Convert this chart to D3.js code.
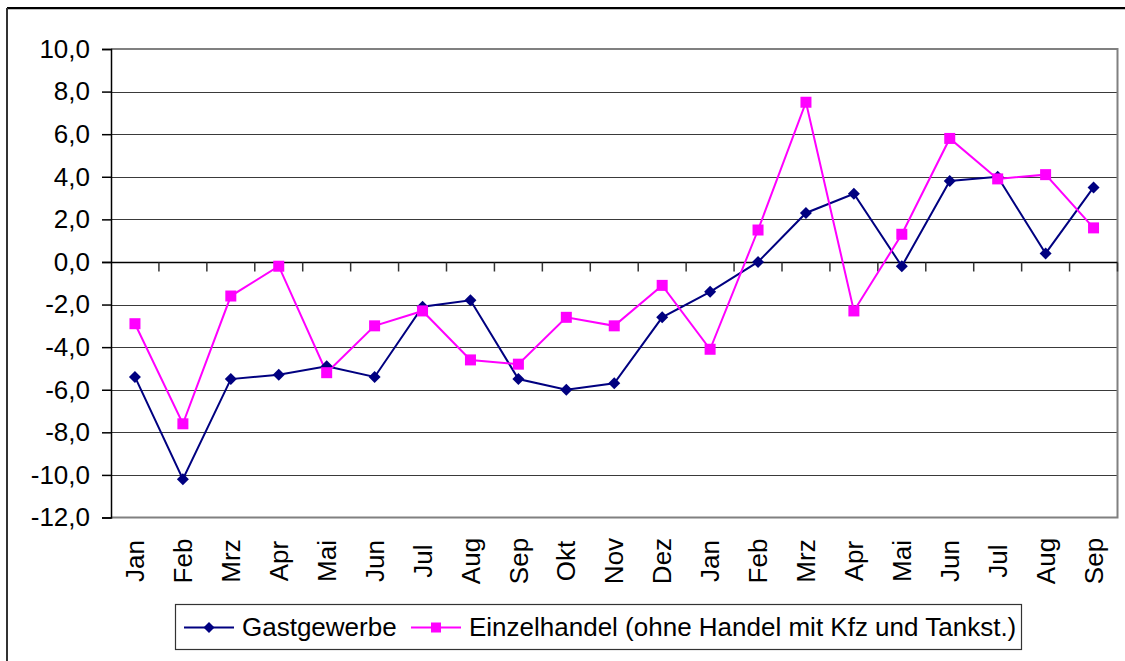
<!DOCTYPE html>
<html>
<head>
<meta charset="utf-8">
<script src="https://cdn.jsdelivr.net/npm/d3@7"></script>
<style>
  html, body { margin: 0; padding: 0; background: #fff; }
  svg { display: block; font-family: "Liberation Sans", Arial, sans-serif; }
</style>
</head>
<body>
<svg id="chart" width="1125" height="661"></svg>
<script>
const categories = ["Jan","Feb","Mrz","Apr","Mai","Jun","Jul","Aug","Sep","Okt","Nov","Dez",
                    "Jan","Feb","Mrz","Apr","Mai","Jun","Jul","Aug","Sep"];
const gastgewerbe = [-5.4,-10.2,-5.5,-5.3,-4.9,-5.4,-2.1,-1.8,-5.5,-6.0,-5.7,-2.6,
                     -1.4,0.0,2.3,3.2,-0.2,3.8,4.0,0.4,3.5];
const einzelhandel = [-2.9,-7.6,-1.6,-0.2,-5.2,-3.0,-2.3,-4.6,-4.8,-2.6,-3.0,-1.1,
                      -4.1,1.5,7.5,-2.3,1.3,5.8,3.9,4.1,1.6];
const yTicks = [10,8,6,4,2,0,-2,-4,-6,-8,-10,-12];
const seriesNames = ["Gastgewerbe", "Einzelhandel (ohne Handel mit Kfz und Tankst.)"];

const svg = d3.select("#chart");
const L = 111, R = 1117.5, T = 49, B = 517.5;

// outer chart border (top and left visible)
svg.append("line").attr("x1", 7).attr("x2", 1125).attr("y1", 8).attr("y2", 8)
  .attr("stroke", "#000").attr("stroke-width", 2);
svg.append("line").attr("x1", 7).attr("x2", 1125).attr("y1", 9.5).attr("y2", 9.5)
  .attr("stroke", "#c0c0c0").attr("stroke-width", 1);
svg.append("line").attr("x1", 7).attr("x2", 7).attr("y1", 8).attr("y2", 661)
  .attr("stroke", "#333").attr("stroke-width", 2);

const x = d3.scaleBand().domain(d3.range(categories.length)).range([L, R]).padding(0);
const y = d3.scaleLinear().domain([-12, 10]).range([B, T]);
const fmt = v => d3.format(".1f")(v).replace(".", ",").replace("−", "-");

// gridlines
svg.append("g").selectAll("line").data(yTicks.filter(v => v !== 10 && v !== -12 && v !== 0))
  .join("line")
  .attr("x1", L).attr("x2", R)
  .attr("y1", d => Math.round(y(d)) + 0.5).attr("y2", d => Math.round(y(d)) + 0.5)
  .attr("stroke", "#3a3a3a").attr("stroke-width", 1);

// plot border (gray)
svg.append("path")
  .attr("d", `M${L},${T}H${R}V${B}H${L}`)
  .attr("fill", "none").attr("stroke", "#808080").attr("stroke-width", 2);

// y axis
const yAxis = d3.axisLeft(y).tickValues(yTicks).tickSize(9).tickPadding(12).tickFormat(fmt);
const gy = svg.append("g").attr("transform", `translate(${L},0)`).call(yAxis);
gy.select(".domain").attr("stroke", "#000").attr("stroke-width", 1.5);
gy.selectAll(".tick line").attr("stroke", "#000").attr("stroke-width", 1.5);
gy.selectAll(".tick text").attr("font-size", 26).attr("fill", "#000")
  .attr("font-family", "'Liberation Sans', Arial, sans-serif");

// zero axis with category boundary ticks
const y0 = Math.round(y(0)) + 0.5;
svg.append("line").attr("x1", L - 9).attr("x2", R).attr("y1", y0).attr("y2", y0)
  .attr("stroke", "#000").attr("stroke-width", 1.5);
const bounds = d3.range(categories.length + 1).map(i => i < categories.length ? x(i) : R);
svg.append("g").selectAll("line").data(bounds.slice(1)).join("line")
  .attr("x1", d => d).attr("x2", d => d).attr("y1", y0).attr("y2", y0 + 9)
  .attr("stroke", "#333").attr("stroke-width", 1.5);

// x category labels (rotated)
svg.append("g").selectAll("text").data(categories).join("text")
  .attr("transform", (d, i) => `translate(${x(i) + x.bandwidth() / 2},561) rotate(-90)`)
  .attr("text-anchor", "middle").attr("dy", "0.35em")
  .attr("font-size", 26).attr("fill", "#000").text(d => d);

// lines
const cx = i => x(i) + x.bandwidth() / 2;
const line = d3.line().x((d, i) => cx(i)).y(d => y(d));
svg.append("path").datum(gastgewerbe).attr("d", line)
  .attr("fill", "none").attr("stroke", "#000080").attr("stroke-width", 2);
svg.append("path").datum(einzelhandel).attr("d", line)
  .attr("fill", "none").attr("stroke", "#ff00ff").attr("stroke-width", 2);

const diamond = d3.symbol().type(d3.symbolDiamond2 || d3.symbolDiamond).size(62);
const diamondPath = (cxv, cyv, r) => `M${cxv},${cyv - r}L${cxv + r},${cyv}L${cxv},${cyv + r}L${cxv - r},${cyv}Z`;

svg.append("g").selectAll("path").data(gastgewerbe).join("path")
  .attr("d", (d, i) => diamondPath(cx(i), y(d), 6))
  .attr("fill", "#000080");
svg.append("g").selectAll("rect").data(einzelhandel).join("rect")
  .attr("x", (d, i) => cx(i) - 5.5).attr("y", d => y(d) - 5.5)
  .attr("width", 11).attr("height", 11).attr("fill", "#ff00ff");

// legend
const lg = svg.append("g");
lg.append("rect").attr("x", 175.5).attr("y", 604.5).attr("width", 846).attr("height", 45)
  .attr("fill", "#fff").attr("stroke", "#333").attr("stroke-width", 1.2);
const legendItems = [
  { name: seriesNames[0], color: "#000080", x0: 184, x1: 234, tx: 242, shape: "diamond" },
  { name: seriesNames[1], color: "#ff00ff", x0: 411, x1: 461, tx: 469, shape: "square" }
];
const ly = 627.5;
legendItems.forEach(it => {
  lg.append("line").attr("x1", it.x0).attr("x2", it.x1).attr("y1", ly).attr("y2", ly)
    .attr("stroke", it.color).attr("stroke-width", 2);
  const mx = (it.x0 + it.x1) / 2;
  if (it.shape === "diamond") {
    lg.append("path").attr("d", diamondPath(mx, ly, 5.5)).attr("fill", it.color);
  } else {
    lg.append("rect").attr("x", mx - 5).attr("y", ly - 5).attr("width", 10).attr("height", 10)
      .attr("fill", it.color);
  }
  lg.append("text").attr("x", it.tx).attr("y", 636).attr("font-size", 26).attr("fill", "#000")
    .text(it.name);
});
</script>
</body>
</html>
